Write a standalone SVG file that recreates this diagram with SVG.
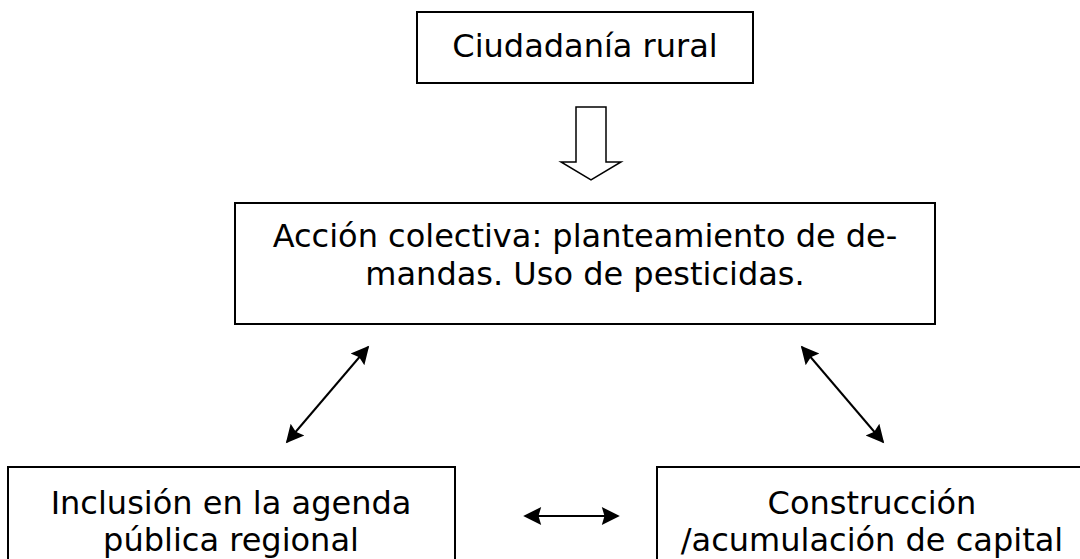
<svg xmlns="http://www.w3.org/2000/svg" width="1080" height="559" viewBox="0 0 1080 559">
<defs>
<marker id="ah" viewBox="0 0 10 10" refX="9" refY="5" markerWidth="10" markerHeight="9" markerUnits="strokeWidth" orient="auto-start-reverse">
<path d="M0,0 L10,5 L0,10 L1.5,5 z" fill="#000"/>
</marker>
<style>
.box{fill:#fff;stroke:#000;stroke-width:2}
.t{font-family:"DejaVu Sans",Verdana,sans-serif;font-size:32px;fill:#000;text-anchor:middle}
.c{stroke:#000;stroke-width:2;fill:none}
</style>
</defs>
<rect width="1080" height="559" fill="#fff"/>
<g id="ciudadania">
<rect class="box" x="417" y="12" width="336" height="71"/>
<text class="t" x="585" y="57">Ciudadanía rural</text>
</g>
<g id="accion">
<rect class="box" x="235" y="203" width="700" height="121"/>
<text class="t" x="585" y="247">Acción colectiva: planteamiento de de-</text>
<text class="t" x="585" y="285">mandas. Uso de pesticidas.</text>
</g>
<g id="inclusion">
<rect class="box" x="8" y="467" width="447" height="110"/>
<text class="t" x="231" y="514">Inclusión en la agenda</text>
<text class="t" x="231" y="551">pública regional</text>
</g>
<g id="construccion">
<rect class="box" x="657" y="467" width="440" height="110"/>
<text class="t" x="872" y="514">Construcción</text>
<text class="t" x="872" y="551">/acumulación de capital</text>
</g>
<g id="connectors">
<path d="M576,107 H606 V162 H621 L591,180 L561,162 H576 Z" fill="#fff" stroke="#000" stroke-width="1.5"/>
<line class="c" x1="287" y1="442" x2="368" y2="347" marker-start="url(#ah)" marker-end="url(#ah)"/>
<line class="c" x1="802" y1="347" x2="883" y2="442" marker-start="url(#ah)" marker-end="url(#ah)"/>
<line class="c" x1="525" y1="516" x2="618" y2="516" marker-start="url(#ah)" marker-end="url(#ah)"/>
</g>
</svg>
